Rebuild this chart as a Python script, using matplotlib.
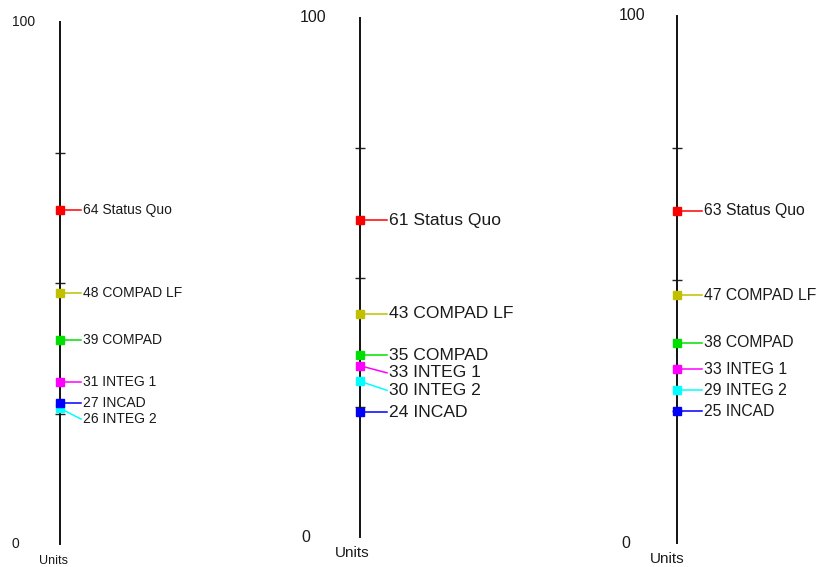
import matplotlib
matplotlib.use("Agg")
import matplotlib.pyplot as plt

plt.rcParams['font.family'] = ['Liberation Sans', 'DejaVu Sans']

# ---- data ----
categories = ["Status Quo", "COMPAD LF", "COMPAD", "INTEG 1", "INTEG 2", "INCAD"]
colors = ["#ff0000", "#c0c000", "#00e000", "#ff00ff", "#00ffff", "#0000ff"]
panel1_values = [64, 48, 39, 31, 26, 27]
panel2_values = [61, 43, 35, 33, 30, 24]
panel3_values = [63, 47, 38, 33, 29, 25]
axis_label = "Units"
tick_labels = ["0", "100"]

W, H = 818, 567
fig = plt.figure(figsize=(W / 100, H / 100), dpi=100)

# panel layout in pixels
panels = [
    dict(vals=panel1_values, ax_x=60, top=22, bot=544, fs=10.0, gap=16.0, tx=23,
         lab0=-49, lab100=-48, tfs=10.0, ufs=9.0, uoff=(-7, -17)),
    dict(vals=panel2_values, ax_x=360, top=18, bot=537, fs=12.6, gap=17.5, tx=29,
         lab0=-59, lab100=-60, tfs=11.5, ufs=11.0, uoff=(-8, -16)),
    dict(vals=panel3_values, ax_x=677, top=16, bot=543, fs=11.3, gap=21.0, tx=27,
         lab0=-56, lab100=-58, tfs=11.5, ufs=11.0, uoff=(-10, -16)),
]

AXW = 140  # axes width in px


def declutter(ypix, gap):
    order = sorted(range(len(ypix)), key=lambda i: ypix[i])
    out = list(ypix)
    last = None
    for i in order:
        if last is not None and out[i] - last < gap:
            out[i] = last + gap
        last = out[i]
    return out


for p in panels:
    left = p["ax_x"] / W
    bottom = (H - p["bot"]) / H
    height = (p["bot"] - p["top"]) / H
    ax = fig.add_axes([left, bottom, AXW / W, height])
    ax.set_xlim(0, AXW)
    ax.set_ylim(0, 100)
    ax.patch.set_visible(False)
    for s in ["top", "right", "bottom"]:
        ax.spines[s].set_visible(False)
    ax.spines["left"].set_linewidth(1.4)
    ax.spines["left"].set_color("#111111")
    ax.set_xticks([])
    ax.set_yticks([25, 50, 75])
    ax.set_yticklabels([])
    ax.tick_params(axis="y", direction="inout", length=7, width=1.0, color="#222222")

    ax.annotate(tick_labels[1], xy=(0, 100), xytext=(p["lab100"], 0), textcoords="offset pixels",
                ha="left", va="center", fontsize=p["tfs"], color="#1a1a1a", annotation_clip=False)
    ax.annotate(tick_labels[0], xy=(0, 0), xytext=(p["lab0"], 0), textcoords="offset pixels",
                ha="left", va="center", fontsize=p["tfs"], color="#1a1a1a", annotation_clip=False)
    ax.annotate(axis_label, xy=(0, 0), xytext=p["uoff"], textcoords="offset pixels",
                ha="center", va="center", fontsize=p["ufs"], color="#1a1a1a", annotation_clip=False)

    span = p["bot"] - p["top"]
    ypix = [p["bot"] - v / 100 * span for v in p["vals"]]
    ylab = declutter(ypix, p["gap"])
    ylab_data = [(p["bot"] - y) / span * 100 for y in ylab]

    for name, col, v, yl in zip(categories, colors, p["vals"], ylab_data):
        ax.plot([0, p["tx"] - 2], [v, yl], color=col, lw=1.1, clip_on=False, zorder=2)
        ax.plot([0], [v], marker="s", ms=5.5, color=col, mec=col, clip_on=False, zorder=3)
        ax.text(p["tx"], yl, f"{v} {name}", ha="left", va="center", fontsize=p["fs"],
                color="#1a1a1a", clip_on=False)

fig.savefig("out.png", dpi=100)
